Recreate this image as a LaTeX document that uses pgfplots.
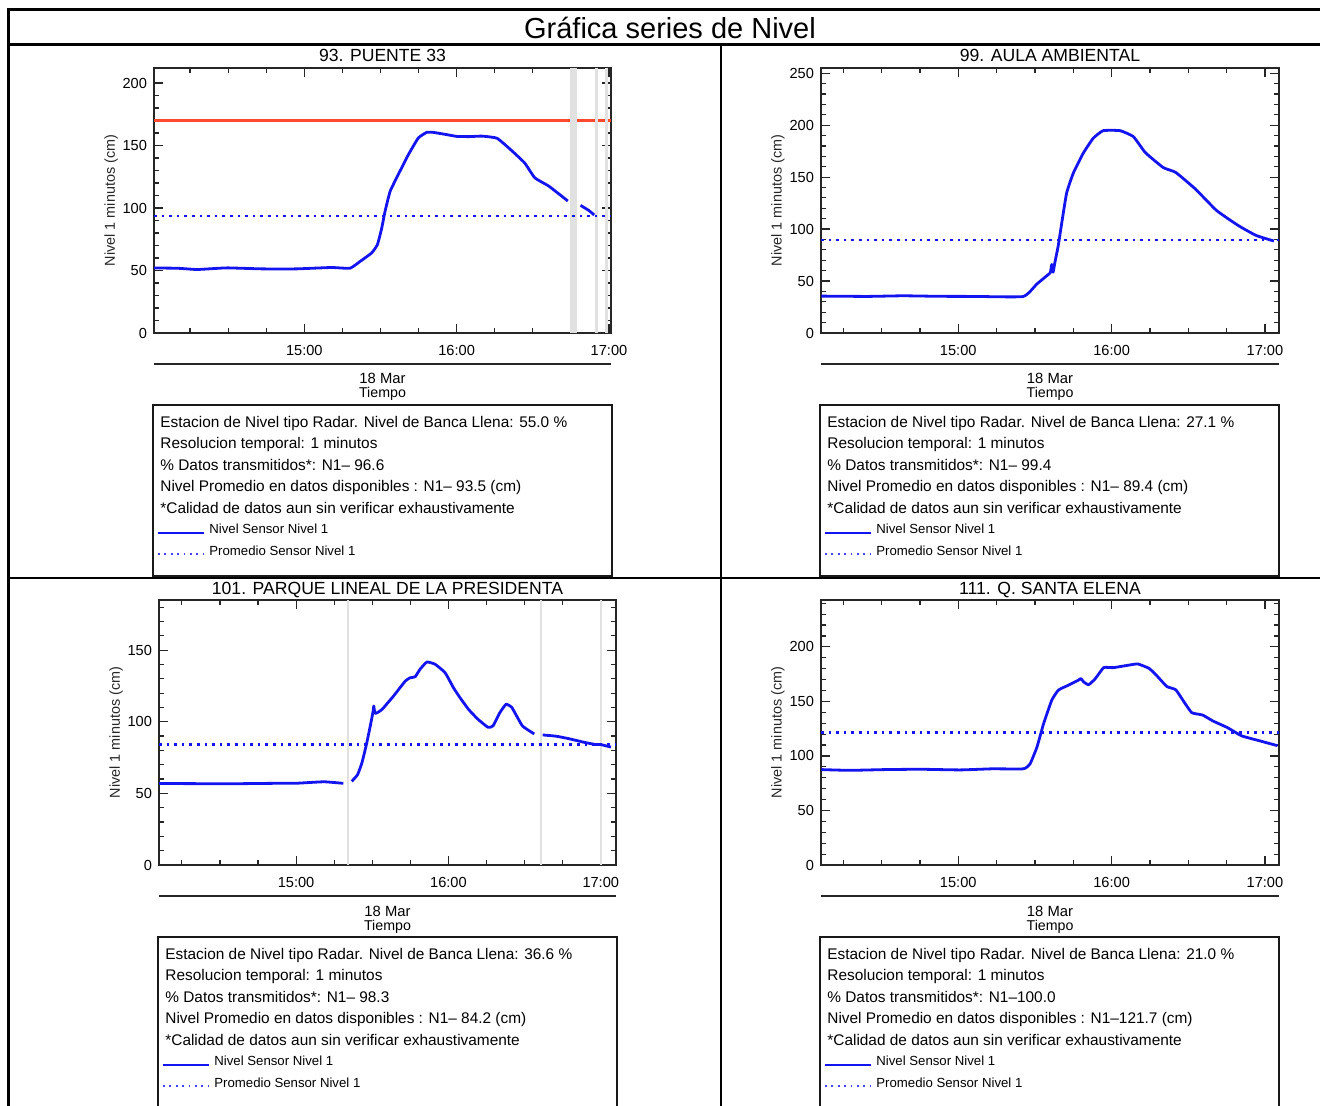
\documentclass[border=0pt]{standalone}
\usepackage{fontspec}
\setmainfont{Liberation Sans}
\usepackage{pgfplots}
\pgfplotsset{compat=1.18}

\definecolor{serie}{RGB}{20,20,240}
\definecolor{banca}{RGB}{255,72,48}
\definecolor{hueco}{RGB}{225,225,225}

\newcommand{\fs}[1]{\fontsize{#1}{#1}\selectfont}

% x = minutos desde las 14:00
\pgfplotsset{
  nivel/.style={
    scale only axis, height=132.5pt,
    ymin=0, clip=true,
    axis line style={black!85, line width=0.7pt},
    tick style={black!85, line width=0.6pt},
    tick align=inside,
    major tick length=4.5pt, minor tick length=2.5pt,
    xtick={60,120,180}, xticklabels={15:00,16:00,17:00},
    minor xtick={15,30,45,75,90,105,135,150,165},
    ytick distance=50, minor y tick num=4,
    tick label style={font=\fs{7.3}},
    xticklabel style={yshift=-2.5pt},
    /pgf/number format/assume math mode=true,
    ylabel={Nivel 1 minutos (cm)},
    ylabel style={at={(axis description cs:-0.094,0.5)}, anchor=center, font=\fs{7.2}, black!85},
    every axis title/.style={at={(axis description cs:0.5,1)}, anchor=base, yshift=3pt, font=\fs{8.8}},
  },
  serieN/.style={serie, line width=1.4pt, smooth, tension=0.25, line join=round},
  promedio/.style={serie, line width=1.3pt, dash pattern=on 1.3pt off 2.5pt},
}

% caja de texto: #1 izquierda, #2 arriba (px), #3 banca, #4 datos, #5 promedio
\newcommand{\caja}[5]{%
  \draw[black!90, line width=0.9pt] (#1,#2) rectangle ++(459,171);
  \begin{scope}[every node/.style={anchor=base west, inner sep=0pt, font=\fs{7.7}}]
    \node at (#1+7,#2+22) {Estacion de Nivel tipo Radar. Nivel de Banca Llena: #3 \%};
    \node at (#1+7,#2+43.5) {Resolucion temporal: 1 minutos};
    \node at (#1+7,#2+65) {\% Datos transmitidos*: N1#4};
    \node at (#1+7,#2+86.5) {Nivel Promedio en datos disponibles : N1#5 (cm)};
    \node at (#1+7,#2+108) {*Calidad de datos aun sin verificar exhaustivamente};
    \node[font=\fs{6.6}] at (#1+56,#2+128.5) {Nivel Sensor Nivel 1};
    \node[font=\fs{6.6}] at (#1+56,#2+150) {Promedio Sensor Nivel 1};
  \end{scope}
  \draw[serie, line width=0.8pt] (#1+5,#2+128) -- ++(46,0);
  \draw[serie!80, line width=0.9pt, dash pattern=on 0.9pt off 2.3pt] (#1+5,#2+149) -- ++(46,0);
}
% eje de fecha: #1 izquierda, #2 derecha, #3 y de la linea
\newcommand{\fecha}[3]{%
  \draw[black!85, line width=0.75pt] (#1,#3) -- (#2,#3);
  \node[font=\fs{7.4}, anchor=base, inner sep=0pt] at ({(#1+#2)/2},#3+20) {18 Mar};
  \node[font=\fs{7.1}, anchor=base, inner sep=0pt] at ({(#1+#2)/2},#3+34) {Tiempo};
}

\begin{document}
\begin{tikzpicture}
\useasboundingbox (0,0) rectangle (660pt,-553pt);

\begin{scope}[x=0.5pt, y=-0.5pt]
  \draw[line width=1.5pt] (1325,9.5) -- (8,9.5) -- (8,1110);
  \draw[line width=1.5pt] (8,45) -- (1325,45);
  \draw[line width=1pt] (721,45) -- (721,1110);
  \draw[line width=1pt] (8,578) -- (1325,578);
  \node[font=\fs{14.5}, anchor=base, inner sep=0pt] at (670,39) {Gráfica series de Nivel};

  \fecha{154}{611}{364}
  \fecha{821}{1279}{364}
  \fecha{159}{616}{896}
  \fecha{821}{1279}{896}

  \caja{153}{405}{55.0}{– 96.6}{– 93.5}
  \caja{820}{405}{27.1}{– 99.4}{– 89.4}
  \caja{158}{937}{36.6}{– 98.3}{– 84.2}
  \caja{820}{937}{21.0}{–100.0}{–121.7}
\end{scope}

% 93. PUENTE 33
\begin{axis}[nivel, at={(77pt,-166.5pt)}, anchor=south west, width=228.5pt,
  xmin=0.8, xmax=180.8, ymax=212, title={93. PUENTE 33}]
\addplot[banca, line width=1.1pt] coordinates {(0.8,170) (180.8,170)};
\addplot[fill=hueco, draw=none] coordinates {(164.8,0) (164.8,212) (167.6,212) (167.6,0)};
\addplot[fill=hueco, draw=none] coordinates {(174.5,0) (174.5,212) (175.6,212) (175.6,0)};
\addplot[fill=hueco, draw=none] coordinates {(178.6,0) (178.6,212) (179.6,212) (179.6,0)};
\addplot[serieN] coordinates {
  (0.8,52) (10,51.8) (17.6,50.8) (24,51.5) (29.8,52.1) (43.4,51.3) (57,51.3)
  (70.6,52.4) (78,51.8) (82,57.3) (86.5,64) (88.8,70.7) (90.5,84) (91.8,97.3)
  (93.8,113.3) (97,126.7) (101,142.7) (104.9,156) (108.2,160.5) (110.8,160.5)
  (116.1,158.7) (120,157.3) (125,157.1) (130,157.5) (135.9,155.8) (141.3,146.6)
  (146.8,136) (150.8,124.1) (156.3,117.5) (163.8,105.6)};
\addplot[serieN] coordinates {(168.8,102.1) (172,98.1) (174.2,94.4)};
\addplot[promedio] coordinates {(0.8,93.5) (180.8,93.5)};
\end{axis}

% 99. AULA AMBIENTAL
\begin{axis}[nivel, at={(410.5pt,-166.5pt)}, anchor=south west, width=229pt,
  xmin=6.3, xmax=185.5, ymax=255, title={99. AULA AMBIENTAL}]
\addplot[serieN] coordinates {
  (6.4,35.5) (24.4,35.2) (38.4,35.8) (52.3,35.3) (66.3,35.2) (85.4,35.1)
  (90.7,47) (94.6,55) (96,58) (96.6,66) (97.1,58.5) (97.8,67.8) (99.1,83.7)
  (100.5,106) (102.4,134.7) (105,153.8) (108.9,173) (112.8,187.4) (116.7,194.7)
  (123.3,194.7) (128.5,189) (133.2,173.6) (140.2,159.2) (145.1,154.5)
  (152.8,138.5) (161.1,117.8) (169.5,103.5) (176.5,93.9) (183.5,88.5)};
\addplot[promedio] coordinates {(6.3,89.4) (185.5,89.4)};
\end{axis}

% 101. PARQUE LINEAL DE LA PRESIDENTA
\begin{axis}[nivel, at={(79.5pt,-432.5pt)}, anchor=south west, width=228.5pt,
  xmin=6, xmax=186, ymax=185, title={101. PARQUE LINEAL DE LA PRESIDENTA}]
\addplot[fill=hueco, draw=none] coordinates {(80,0) (80,185) (80.8,185) (80.8,0)};
\addplot[fill=hueco, draw=none] coordinates {(156.2,0) (156.2,185) (157,185) (157,0)};
\addplot[fill=hueco, draw=none] coordinates {(179.7,0) (179.7,185) (180.5,185) (180.5,0)};
\addplot[serieN] coordinates {
  (6,56.9) (20,56.8) (33.4,56.7) (50,57) (60.3,57.1) (71,58.1) (78.6,57)};
\addplot[serieN] coordinates {
  (81.9,58.4) (84.2,63) (85.9,71.2) (87.6,83.4) (89.2,96.9) (90.3,107) (90.6,111)
  (91,106) (91.8,106.2) (93.8,108.5) (98.3,117.8) (103,128.4) (104.9,130.7)
  (106.9,131.4) (108.8,136.6) (111.5,141.7) (114.8,140.1) (118.7,134.2)
  (122,123.7) (124.6,116.7) (128,108.5) (131.6,101.8) (135.6,96.1) (137.6,97.2)
  (140.3,106.5) (142.7,112.2) (145,109.9) (149.1,97.2) (153.8,91.5)};
\addplot[serieN] coordinates {
  (157.1,90.8) (162.5,89.9) (167.9,88) (173.3,85.7) (178,84.1) (180,84.1) (184,82.3)};
\addplot[promedio] coordinates {(6,84.2) (186,84.2)};
\end{axis}

% 111. Q. SANTA ELENA
\begin{axis}[nivel, at={(410.5pt,-432.5pt)}, anchor=south west, width=229pt,
  xmin=6.3, xmax=185.5, ymax=243, title={111. Q. SANTA ELENA}]
\addplot[serieN] coordinates {
  (6.4,87.5) (17.5,86.8) (31.4,87.5) (45.4,87.8) (60.7,87.2) (73.3,88.2)
  (85.5,88.2) (88.1,92.8) (90.8,108.2) (93.4,129.7) (96.6,151.2) (99.2,160.4)
  (103.2,165) (107.1,169.6) (108,171) (109,168) (111,165.3) (113.6,170.8)
  (116.9,181) (120.8,181) (128.6,184) (130.4,184.3) (134.6,180.4) (137.4,174.3)
  (141.6,163.7) (145.1,160.7) (148.6,148.6) (151.4,139.6) (155.6,137.5)
  (159.7,132) (165.3,126) (170.9,118.4) (177.9,113.9) (184.9,109.4)};
\addplot[promedio] coordinates {(6.3,121.7) (185.5,121.7)};
\end{axis}
\end{tikzpicture}
\end{document}
